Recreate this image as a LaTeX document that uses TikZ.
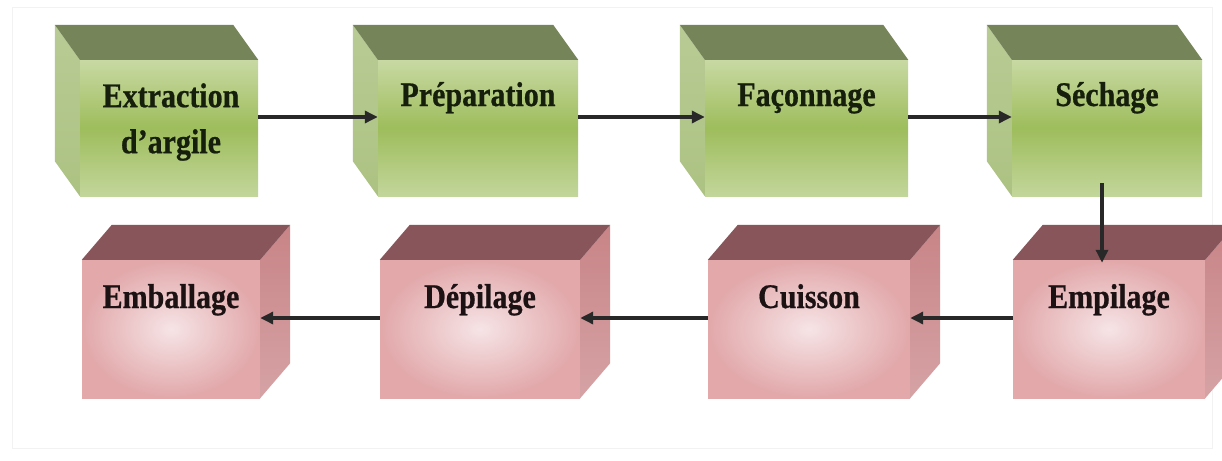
\documentclass[tikz,border=0pt]{standalone}
\usepackage{fontspec}
\setmainfont{Liberation Serif}
\newfontfamily\labfont{Liberation Serif}[FakeStretch=0.87, BoldFeatures={FakeBold=0.6}]
\usetikzlibrary{arrows.meta}
\definecolor{gtop}{RGB}{118,132,90}
\definecolor{gside}{RGB}{172,194,130}
\definecolor{gfl}{RGB}{200,217,163}
\definecolor{gfm}{RGB}{158,189,92}
\definecolor{gfb}{RGB}{194,214,155}
\definecolor{ptop}{RGB}{136,86,90}
\definecolor{pside}{RGB}{200,132,135}
\definecolor{pin}{RGB}{246,228,230}
\definecolor{pout}{RGB}{226,168,170}
\definecolor{arrcol}{RGB}{40,40,40}
\definecolor{gtext}{RGB}{22,30,12}
\definecolor{ptext}{RGB}{28,18,20}
\begin{document}
\begin{tikzpicture}[x=1pt,y=-1pt,
  gface/.style={minimum width=#1, minimum height=136pt, inner sep=0pt,
    top color=gfl, bottom color=gfb, middle color=gfm},
  pface/.style={minimum width=#1, minimum height=138pt, inner sep=0pt,
    inner color=pin, outer color=pout},
  glab/.style={font=\labfont\bfseries\fontsize{34.5}{46}\selectfont, text=gtext, align=center, inner sep=0pt},
  plab/.style={font=\labfont\bfseries\fontsize{34.5}{46}\selectfont, text=ptext, align=center, inner sep=0pt},
  arr/.style={draw=arrcol, line width=3.5pt, -{Triangle[length=13pt,width=12pt]}},
  frame/.style={draw=black!5, line width=1pt}
]
\useasboundingbox (0,0) rectangle (1222,460);
\fill[white] (0,0) rectangle (1222,460);
\draw[frame] (12,8) rectangle (1212,448);

% green boxes (front faces)
\node[gface=178pt] (b1) at (169,128) {};
\node[gface=200pt] (b2) at (478,128) {};
\node[gface=203pt] (b3) at (806.5,128) {};
\node[gface=190pt] (b4) at (1107,128) {};
\foreach \b in {b1,b2,b3,b4}{
  \shade[top color=gside!85!white, bottom color=gside] (\b.north west) -- ([shift={(-25,-35)}]\b.north west)
     -- ([shift={(-25,-35)}]\b.south west) -- (\b.south west) -- cycle;
  \fill[gtop] (\b.north west) -- ([shift={(-25,-35)}]\b.north west)
     -- ([shift={(-25,-35)}]\b.north east) -- (\b.north east) -- cycle;
}

% pink boxes (front faces)
\node[pface=178pt] (p1) at (171,329) {};
\node[pface=200pt] (p2) at (480,329) {};
\node[pface=202pt] (p3) at (809,329) {};
\node[pface=192pt] (p4) at (1109,329) {};
\foreach \p in {p1,p2,p3,p4}{
  \shade[top color=pside, bottom color=pside!75!white] (\p.north east) -- ([shift={(30,-35)}]\p.north east)
     -- ([shift={(30,-35)}]\p.south east) -- (\p.south east) -- cycle;
  \fill[ptop] (\p.north west) -- ([shift={(30,-35)}]\p.north west)
     -- ([shift={(30,-35)}]\p.north east) -- (\p.north east) -- cycle;
}

% labels
\node[glab] (t1) at (171,122) {Extraction\\d’argile};
\node[glab, anchor=base] (t2) at (478,106) {Préparation};
\node[glab, anchor=base] (t3) at (806.5,106) {Façonnage};
\node[glab, anchor=base] (t4) at (1107,106) {Séchage};
\node[plab, anchor=base] (t5) at (171,308) {Emballage};
\node[plab, anchor=base] (t6) at (480,308) {Dépilage};
\node[plab, anchor=base] (t7) at (809,308) {Cuisson};
\node[plab, anchor=base] (t8) at (1109,308) {Empilage};

% connectors
\draw[arr] ([yshift=11pt]b1.east) -- ([yshift=11pt]b2.west);
\draw[arr] ([yshift=11pt]b2.east) -- ([yshift=11pt]b3.west);
\draw[arr] ([yshift=11pt]b3.east) -- ([yshift=11pt]b4.west);
\coordinate (v1) at ([xshift=-5pt,yshift=13pt]b4.south);
\coordinate (v2) at ([yshift=-3pt]p4.north);
\draw[arr] (v1) -- (v1 |- v2);
\draw[arr] ([yshift=11pt]p4.west) -- ([yshift=11pt]p3.east);
\draw[arr] ([yshift=11pt]p3.west) -- ([yshift=11pt]p2.east);
\draw[arr] ([yshift=11pt]p2.west) -- ([yshift=11pt]p1.east);
\end{tikzpicture}
\end{document}
